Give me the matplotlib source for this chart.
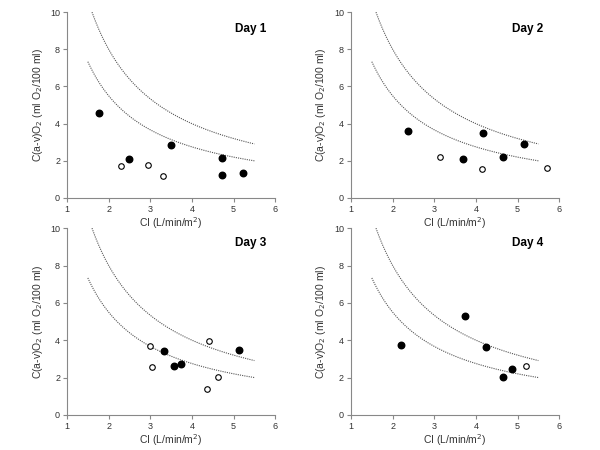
import numpy as np
import matplotlib
matplotlib.use("Agg")
import matplotlib.pyplot as plt

# iso-VO2 curves: C(a-v)O2 = k / CI
iso_k = [11.0, 16.0]
iso_ci_start = [1.5, 1.6]
iso_ci_end = 5.5

day_names = ["Day 1", "Day 2", "Day 3", "Day 4"]

# filled circles
day1_filled_ci = [1.78, 2.5, 3.5, 4.72, 4.73, 5.23]
day1_filled_avo2 = [4.6, 2.1, 2.85, 2.15, 1.25, 1.35]
day2_filled_ci = [2.37, 3.68, 4.17, 4.66, 5.15]
day2_filled_avo2 = [3.58, 2.1, 3.5, 2.2, 2.9]
day3_filled_ci = [3.32, 3.57, 3.73, 5.14]
day3_filled_avo2 = [3.4, 2.63, 2.7, 3.47]
day4_filled_ci = [2.19, 3.73, 4.24, 4.66, 4.87]
day4_filled_avo2 = [3.73, 5.32, 3.63, 2.04, 2.48]

# open circles
day1_open_ci = [2.3, 2.95, 3.3]
day1_open_avo2 = [1.7, 1.75, 1.2]
day2_open_ci = [3.14, 4.14, 5.71]
day2_open_avo2 = [2.2, 1.58, 1.6]
day3_open_ci = [3.0, 3.03, 4.41, 4.36, 4.62]
day3_open_avo2 = [3.71, 2.55, 3.96, 1.39, 2.02]
day4_open_ci = [5.21]
day4_open_avo2 = [2.63]

filled = [(day1_filled_ci, day1_filled_avo2), (day2_filled_ci, day2_filled_avo2),
          (day3_filled_ci, day3_filled_avo2), (day4_filled_ci, day4_filled_avo2)]
opened = [(day1_open_ci, day1_open_avo2), (day2_open_ci, day2_open_avo2),
          (day3_open_ci, day3_open_avo2), (day4_open_ci, day4_open_avo2)]

plt.rcParams['font.family'] = ['Liberation Sans', 'DejaVu Sans']

fig = plt.figure(figsize=(6, 4.5), dpi=100)
positions = [
    [0.1117, 0.560, 0.347, 0.413],
    [0.585, 0.560, 0.347, 0.413],
    [0.1117, 0.078, 0.347, 0.415],
    [0.585, 0.078, 0.347, 0.415],
]
title_pos = [(0.957, 0.908), (0.923, 0.908), (0.957, 0.92), (0.923, 0.92)]

for i in range(4):
    ax = fig.add_axes(positions[i])
    for k, x0 in zip(iso_k, iso_ci_start):
        ci = np.linspace(x0, iso_ci_end, 200)
        ax.plot(ci, k / ci, color='#555555', lw=0.8, ls=(0, (1, 1)))
    fx, fy = filled[i]
    ax.scatter(fx, fy, s=22, color='black', zorder=3)
    ox, oy = opened[i]
    ax.scatter(ox, oy, s=16, facecolor='white', edgecolor='black', linewidth=0.8, zorder=3)

    ax.set_xlim(1, 6)
    ax.set_ylim(0, 10)
    ax.set_xticks([1, 2, 3, 4, 5, 6])
    ax.set_yticks([0, 2, 4, 6, 8, 10])
    for s in ['top', 'right']:
        ax.spines[s].set_visible(False)
    for s in ['left', 'bottom']:
        ax.spines[s].set_color('#888888')
        ax.spines[s].set_linewidth(0.8)
    ax.tick_params(direction='out', length=3, width=0.8, color='#888888',
                   labelsize=6.5, labelcolor='#333333', pad=2)
    ax.set_xlabel('CI (L/min/m$^2$)', fontsize=7.5, color='#333333', labelpad=1)
    ax.set_ylabel('C(a-v)O$_2$ (ml O$_2$/100 ml)', fontsize=7.5, color='#333333', labelpad=4)
    tx, ty = title_pos[i]
    ax.text(tx, ty, day_names[i], transform=ax.transAxes, fontsize=8.5,
            fontweight='bold', ha='right', va='center')

fig.savefig('out.png', dpi=100)
